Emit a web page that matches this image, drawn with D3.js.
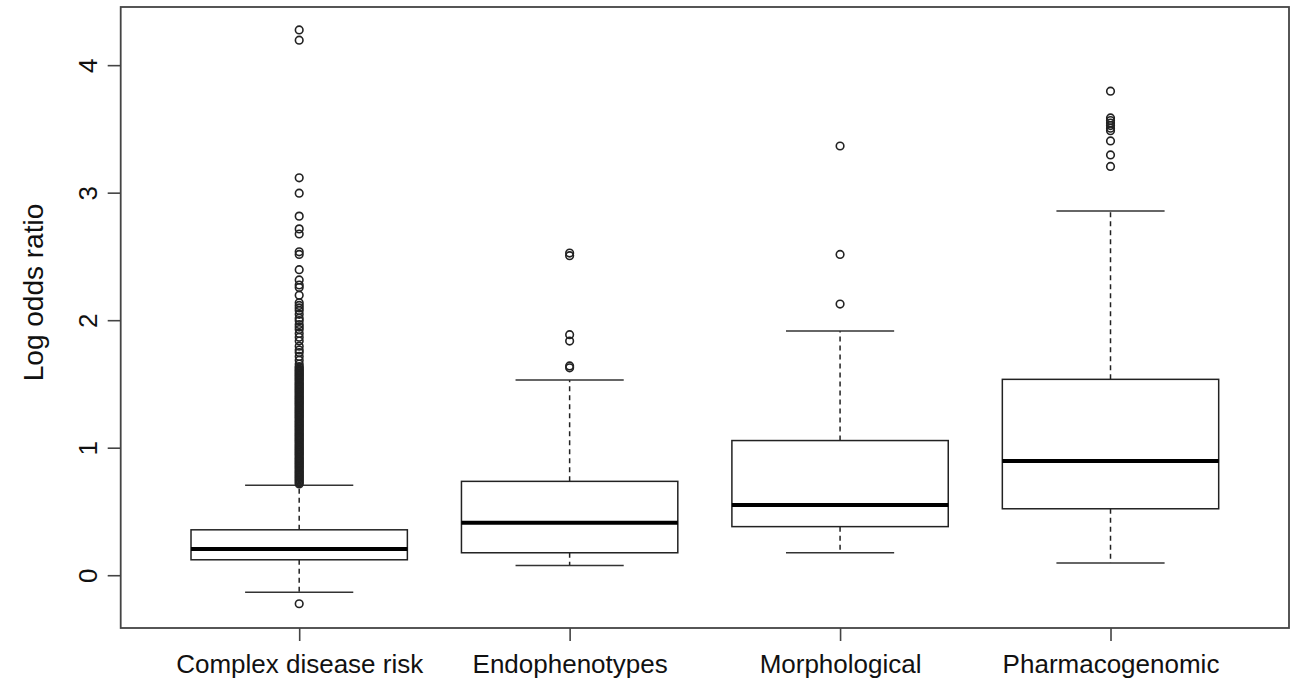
<!DOCTYPE html>
<meta charset="utf-8">
<style>
    body { margin: 0; background: #fff; }
    text { font-family: Arial, "Liberation Sans", sans-serif; fill: #111; }
    .box { fill: #fff; stroke: #222; stroke-width: 1.5px; }
    .median { stroke: #000; stroke-width: 4px; }
    .whisker { stroke: #222; stroke-width: 1.5px; stroke-dasharray: 5,4; }
    .cap { stroke: #333; stroke-width: 1.5px; }
    .outlier { fill: none; stroke: #222; stroke-width: 1.6px; }
    .frame { fill: none; stroke: #444; stroke-width: 1.8px; }
    .axis line { stroke: #444; stroke-width: 1.6px; }
    .axis path { display: none; }
</style>

<svg width="1293" height="682"></svg>

<script src="https://cdn.jsdelivr.net/npm/d3@7"></script>
<script>
    // categories and five-number summaries
    var categories = ["Complex disease risk", "Endophenotypes", "Morphological", "Pharmacogenomic"];
    var q1 = [0.125, 0.18, 0.385, 0.525];
    var medians = [0.21, 0.415, 0.555, 0.90];
    var q3 = [0.36, 0.74, 1.06, 1.54];
    var whiskerLow = [-0.13, 0.08, 0.18, 0.10];
    var whiskerHigh = [0.71, 1.535, 1.92, 2.86];
    var yTicks = [0, 1, 2, 3, 4];

    var outliersComplex = [4.28, 4.20, 3.12, 3.00, 2.82, 2.72, 2.68, 2.54, 2.52, 2.40, 2.32, 2.28,
        2.26, 2.20, 2.14, 2.12, 2.10, 2.08, 2.05, 2.02, 2.00, 1.97, 1.95, 1.93, 1.90, 1.87, 1.84,
        1.80, 1.77, 1.75, 1.72, 1.69, 1.66,
        1.64, 1.63, 1.62, 1.61, 1.60, 1.59, 1.58, 1.57, 1.56, 1.55, 1.54, 1.53, 1.52, 1.51, 1.50,
        1.49, 1.48, 1.47, 1.46, 1.45, 1.44, 1.43, 1.42, 1.41, 1.40, 1.39, 1.38, 1.37, 1.36, 1.35,
        1.34, 1.33, 1.32, 1.31, 1.30, 1.29, 1.28, 1.27, 1.26, 1.25, 1.24, 1.23, 1.22, 1.21, 1.20,
        1.19, 1.18, 1.17, 1.16, 1.15, 1.14, 1.13, 1.12, 1.11, 1.10, 1.09, 1.08, 1.07, 1.06, 1.05,
        1.04, 1.03, 1.02, 1.01, 1.00, 0.99, 0.98, 0.97, 0.96, 0.95, 0.94, 0.93, 0.92, 0.91, 0.90,
        0.89, 0.88, 0.87, 0.86, 0.85, 0.84, 0.83, 0.82, 0.81, 0.80, 0.79, 0.78, 0.77, 0.76, 0.75,
        0.74, 0.73, 0.72, -0.22];
    var outliersEndo = [2.53, 2.51, 1.89, 1.84, 1.645, 1.63];
    var outliersMorph = [3.37, 2.52, 2.13];
    var outliersPharma = [3.80, 3.59, 3.57, 3.55, 3.53, 3.51, 3.49, 3.41, 3.30, 3.21];
    var outliers = [outliersComplex, outliersEndo, outliersMorph, outliersPharma];

    (function () {
        var svg = d3.select("svg"),
            left = 120.7, right = 1289, top = 7, bottom = 628,
            boxHalf = 0.4, capHalf = 0.2;

        var x = d3.scaleLinear().domain([0.34, 4.66]).range([left, right]);
        var y = d3.scaleLinear().domain([-0.41, 4.46]).range([bottom, top]);

        var groups = svg.append("g").selectAll("g")
            .data(categories)
            .enter()
            .append("g");

        // whiskers (dashed)
        groups.append("line").attr("class", "whisker")
            .attr("x1", function (d, i) { return x(i + 1); })
            .attr("x2", function (d, i) { return x(i + 1); })
            .attr("y1", function (d, i) { return y(q3[i]); })
            .attr("y2", function (d, i) { return y(whiskerHigh[i]); });
        groups.append("line").attr("class", "whisker")
            .attr("x1", function (d, i) { return x(i + 1); })
            .attr("x2", function (d, i) { return x(i + 1); })
            .attr("y1", function (d, i) { return y(q1[i]); })
            .attr("y2", function (d, i) { return y(whiskerLow[i]); });

        // whisker caps
        [whiskerHigh, whiskerLow].forEach(function (arr) {
            groups.append("line").attr("class", "cap")
                .attr("x1", function (d, i) { return x(i + 1 - capHalf); })
                .attr("x2", function (d, i) { return x(i + 1 + capHalf); })
                .attr("y1", function (d, i) { return y(arr[i]); })
                .attr("y2", function (d, i) { return y(arr[i]); });
        });

        // boxes
        groups.append("rect").attr("class", "box")
            .attr("x", function (d, i) { return x(i + 1 - boxHalf); })
            .attr("width", function (d, i) { return x(i + 1 + boxHalf) - x(i + 1 - boxHalf); })
            .attr("y", function (d, i) { return y(q3[i]); })
            .attr("height", function (d, i) { return y(q1[i]) - y(q3[i]); });

        groups.append("line").attr("class", "median")
            .attr("x1", function (d, i) { return x(i + 1 - boxHalf); })
            .attr("x2", function (d, i) { return x(i + 1 + boxHalf); })
            .attr("y1", function (d, i) { return y(medians[i]); })
            .attr("y2", function (d, i) { return y(medians[i]); });

        // outliers
        groups.each(function (d, i) {
            d3.select(this).selectAll("circle")
                .data(outliers[i])
                .enter()
                .append("circle")
                .attr("class", "outlier")
                .attr("cx", x(i + 1))
                .attr("cy", function (v) { return y(v); })
                .attr("r", 3.8);
        });

        // frame
        svg.append("rect").attr("class", "frame")
            .attr("x", left).attr("y", top)
            .attr("width", right - left).attr("height", bottom - top);

        // y axis
        var yAxis = svg.append("g").attr("class", "axis")
            .attr("transform", "translate(" + left + ",0)")
            .call(d3.axisLeft(y).tickValues(yTicks).tickSize(13).tickPadding(0).tickFormat(d3.format("d")));
        yAxis.selectAll("text")
            .attr("x", 0).attr("dy", 0)
            .attr("transform", function (d) { return "translate(-24," + y(d) + ") rotate(-90)"; })
            .attr("y", 0)
            .style("text-anchor", "middle")
            .style("font-size", "26px");
        yAxis.selectAll(".tick").attr("transform", null);
        yAxis.selectAll(".tick line").attr("y1", function (d) { return y(d); }).attr("y2", function (d) { return y(d); });

        // x axis
        var xAxis = svg.append("g").attr("class", "axis")
            .attr("transform", "translate(0," + bottom + ")")
            .call(d3.axisBottom(x).tickValues([1, 2, 3, 4]).tickSize(13).tickPadding(14)
                .tickFormat(function (d) { return categories[d - 1]; }));
        xAxis.selectAll("text")
            .attr("dy", "0.71em")
            .style("font-size", "26px");

        // y label
        svg.append("text")
            .attr("transform", "translate(43," + ((top + bottom) / 2 - 25) + ") rotate(-90)")
            .style("text-anchor", "middle")
            .style("font-size", "28px")
            .text("Log odds ratio");
    })();
</script>
